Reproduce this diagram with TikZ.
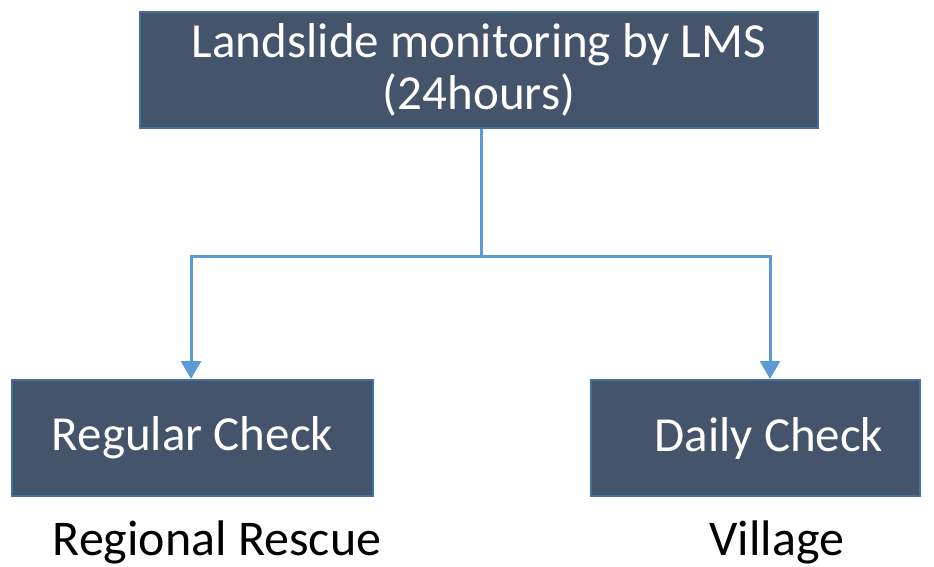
\documentclass[tikz,border=0pt]{standalone}
\usepackage{fontspec}
\setmainfont{Carlito}
\usetikzlibrary{arrows.meta}
\definecolor{boxfill}{HTML}{44546A}
\definecolor{boxline}{HTML}{41719C}
\definecolor{linkblue}{HTML}{5B9BD5}
\tikzset{
  stagebox/.style={draw=boxline, line width=2pt, fill=boxfill, text=white,
    font=\fontsize{49}{52}\selectfont, align=center, inner sep=0pt},
  link/.style={draw=linkblue, line width=3pt,
    -{Triangle[width=20pt,length=18pt]}},
  owner/.style={font=\fontsize{50}{52}\selectfont, anchor=base}
}
\begin{document}
\begin{tikzpicture}[x=1pt,y=-1pt]
  \useasboundingbox (0,0) rectangle (934,567);
  \node(lms)   at (479,70)    [stagebox, minimum width=678pt, minimum height=116pt] {Landslide monitoring by LMS\\(24hours)};
  \node(reg)   at (192.5,438) [stagebox, minimum width=361pt, minimum height=116pt] {\raisebox{-5pt}{Regular Check}};
  \node(daily) at (755.5,438) [stagebox, minimum width=329pt, minimum height=116pt] {\raisebox{-5pt}{\hspace*{27pt}Daily Check}};
  \node(regown) at (217,555) [owner] {Regional Rescue};
  \node(vilown) at (777,555) [owner] {Village};
  \coordinate(split) at (481,256);
  \draw[draw=linkblue, line width=3pt] ([xshift=2pt]lms.south) -- (split);
  \draw[link] (split) -| ([xshift=-1.5pt]reg.north);
  \draw[link] (split) -| ([xshift=14.5pt]daily.north);
\end{tikzpicture}
\end{document}
